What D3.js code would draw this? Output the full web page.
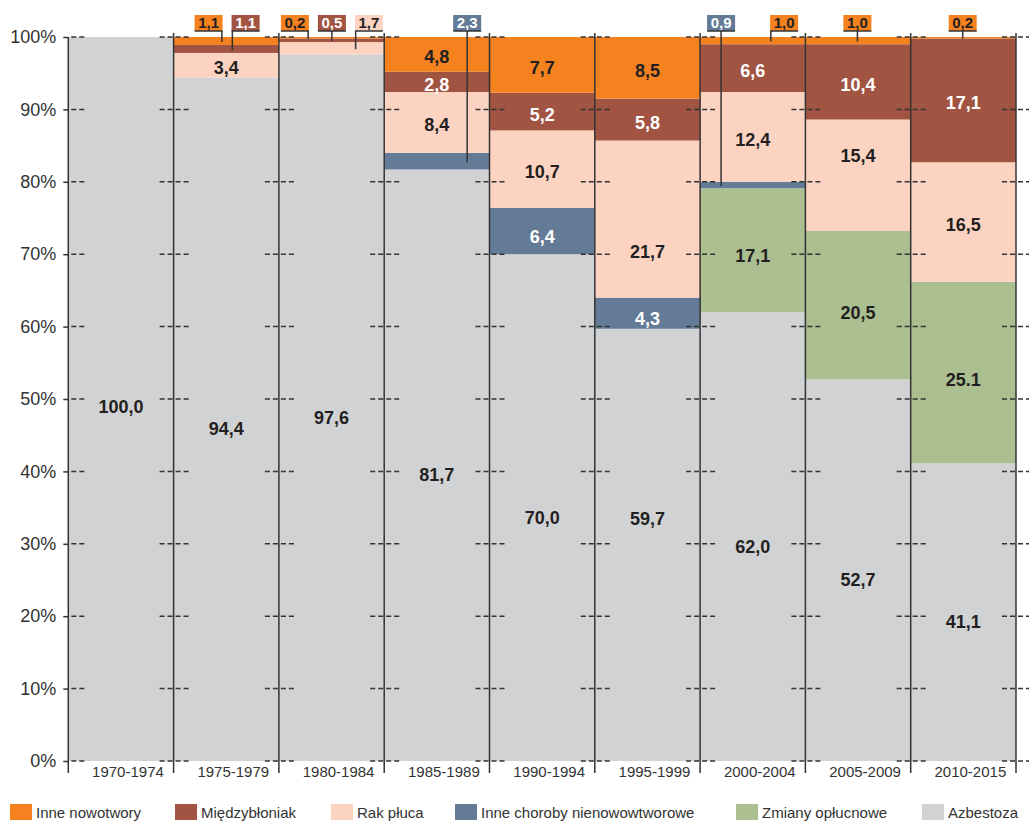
<!DOCTYPE html>
<html lang="pl">
<head>
    <meta charset="UTF-8">
    <title>Struktura chorób zawodowych</title>
    <script src="https://d3js.org/d3.v7.min.js"></script>
    <style>
        body { margin: 0; background: #fff; }
        svg, svg text { font-family: "Liberation Sans", Arial, sans-serif; }
        .tick text { fill: #333; }
    </style>
</head>
<body>
    <svg width="1029" height="821"></svg>

    <script>
        const periods = ["1970-1974", "1975-1979", "1980-1984", "1985-1989", "1990-1994",
                         "1995-1999", "2000-2004", "2005-2009", "2010-2015"];

        // series, bottom of the stack first
        const azbestoza   = [100.0, 94.4, 97.6, 81.7, 70.0, 59.7, 62.0, 52.7, 41.1];
        const zmiany      = [0, 0, 0, 0, 0, 0, 17.1, 20.5, 25.1];
        const inneChoroby = [0, 0, 0, 2.3, 6.4, 4.3, 0.9, 0, 0];
        const rakPluca    = [0, 3.4, 1.7, 8.4, 10.7, 21.7, 12.4, 15.4, 16.5];
        const miedzyb     = [0, 1.1, 0.5, 2.8, 5.2, 5.8, 6.6, 10.4, 17.1];
        const inneNowotw  = [0, 1.1, 0.2, 4.8, 7.7, 8.5, 1.0, 1.0, 0.2];

        const yTicks = [0, 10, 20, 30, 40, 50, 60, 70, 80, 90, 100];

        const series = [
            {key: "Azbestoza", values: azbestoza, color: "#d1d2d4", text: "#231f20"},
            {key: "Zmiany opłucnowe", values: zmiany, color: "#abbf90", text: "#231f20"},
            {key: "Inne choroby nienowowtworowe", values: inneChoroby, color: "#637b96", text: "#fff"},
            {key: "Rak płuca", values: rakPluca, color: "#fcd3c1", text: "#231f20"},
            {key: "Międzybłoniak", values: miedzyb, color: "#a15442", text: "#fff"},
            {key: "Inne nowotwory", values: inneNowotw, color: "#f5821f", text: "#231f20"}
        ];

        // small values shown in boxes above the plot
        const callouts = [
            {period: "1975-1979", key: "Inne nowotwory", dx: 21, lead: "right"},
            {period: "1975-1979", key: "Międzybłoniak", dx: 58, lead: "left"},
            {period: "1980-1984", key: "Inne nowotwory", dx: 2, lead: "right"},
            {period: "1980-1984", key: "Międzybłoniak", dx: 39, lead: "center"},
            {period: "1980-1984", key: "Rak płuca", dx: 76, lead: "left"},
            {period: "1985-1989", key: "Inne choroby nienowowtworowe", dx: 69, lead: "center"},
            {period: "2000-2004", key: "Inne choroby nienowowtworowe", dx: 7, lead: "center"},
            {period: "2000-2004", key: "Inne nowotwory", dx: 70, lead: "left"},
            {period: "2005-2009", key: "Inne nowotwory", dx: 38, lead: "center"},
            {period: "2010-2015", key: "Inne nowotwory", dx: 38, lead: "center"}
        ];

        // hand placed label shifts (px) and label text exceptions
        const labelShift = {
            "1995-1999|Azbestoza": -26,
            "1995-1999|Rak płuca": 33,
            "2005-2009|Rak płuca": -19,
            "2005-2009|Zmiany opłucnowe": 8,
            "2010-2015|Zmiany opłucnowe": 7,
            "2000-2004|Zmiany opłucnowe": 6,
            "1990-1994|Inne choroby nienowowtworowe": 6,
            "1995-1999|Inne choroby nienowowtworowe": 6,
            "1970-1974|Azbestoza": 8
        };
        const labelText = {"2010-2015|Zmiany opłucnowe": "25.1"};

        const legendX = [10, 175, 331, 455, 736, 922];

        const font = '"Liberation Sans", Arial, sans-serif';
        const svg = d3.select("svg");
        const x = d3.scaleBand().domain(periods).range([68.3, 1016]).padding(0);
        const y = d3.scaleLinear().domain([0, 100]).range([761, 37]);

        const rows = periods.map((p, i) => {
            const r = {period: p};
            series.forEach(s => r[s.key] = s.values[i]);
            return r;
        });
        const stacked = d3.stack().keys(series.map(s => s.key))(rows);
        const byKey = {};
        series.forEach(s => byKey[s.key] = s);

        // bars
        svg.append("g").selectAll("g")
            .data(stacked)
            .join("g")
            .attr("fill", d => byKey[d.key].color)
            .selectAll("rect")
            .data(d => d)
            .join("rect")
            .attr("x", d => x(d.data.period))
            .attr("width", x.bandwidth())
            .attr("y", d => y(d[1]))
            .attr("height", d => y(d[0]) - y(d[1]));

        // y axis labels
        const yAxis = svg.append("g")
            .attr("transform", "translate(68.3,0)")
            .call(d3.axisLeft(y).tickValues(yTicks).tickSize(5).tickPadding(7).tickFormat(d => d + "%"))
            .attr("font-family", font);
        yAxis.select(".domain").remove();
        yAxis.selectAll("line").attr("stroke", "#333").attr("stroke-width", 1.5);
        yAxis.selectAll("text").style("font-size", "18px");

        // dashed grid pieces around the column borders
        const borders = periods.map(p => x(p)).concat([x.range()[1]]);
        const dashes = svg.append("g").attr("stroke", "#333").attr("stroke-width", 1.5)
            .attr("stroke-dasharray", "5,3");
        yTicks.forEach(t => {
            borders.forEach((bx, i) => {
                dashes.append("line")
                    .attr("x1", i === 0 ? bx + 3 : bx - 14)
                    .attr("x2", bx + 17)
                    .attr("y1", y(t)).attr("y2", y(t));
            });
        });

        // column borders
        svg.append("g").selectAll("line")
            .data(borders)
            .join("line")
            .attr("x1", d => d).attr("x2", d => d)
            .attr("y1", (d, i) => i === 0 ? 37 : 33)
            .attr("y2", 773)
            .attr("stroke", "#333")
            .attr("stroke-width", 1.5);

        // x axis labels
        const xAxis = svg.append("g")
            .attr("transform", "translate(0,761)")
            .call(d3.axisBottom(x).tickSize(0).tickPadding(5))
            .attr("font-family", font);
        xAxis.select(".domain").remove();
        xAxis.selectAll("text").style("font-size", "15px").attr("dx", 7);

        const fmt = v => d3.format(".1f")(v).replace(".", ",");
        const isCallout = (p, k) => callouts.some(c => c.period === p && c.key === k);

        // labels inside the bars
        const labels = [];
        stacked.forEach(layer => {
            layer.forEach(d => {
                const v = d[1] - d[0];
                const id = d.data.period + "|" + layer.key;
                if (v <= 0 || isCallout(d.data.period, layer.key)) return;
                const def = layer.key === "Azbestoza" ? 10 : 3;
                labels.push({
                    x: x(d.data.period) + x.bandwidth() / 2,
                    y: (y(d[0]) + y(d[1])) / 2 + (labelShift[id] !== undefined ? labelShift[id] : def),
                    text: labelText[id] || fmt(v),
                    color: byKey[layer.key].text
                });
            });
        });
        svg.append("g").selectAll("text")
            .data(labels)
            .join("text")
            .attr("x", d => d.x)
            .attr("y", d => d.y + 6)
            .attr("text-anchor", "middle")
            .attr("fill", d => d.color)
            .style("font-size", "18px")
            .style("font-weight", "bold")
            .text(d => d.text);

        // callout boxes
        const boxW = 28, boxTop = 15, boxBottom = 31;
        const cg = svg.append("g");
        callouts.forEach(c => {
            const layer = stacked.find(l => l.key === c.key);
            const d = layer[periods.indexOf(c.period)];
            const s = byKey[c.key];
            const bx = x(c.period) + c.dx;
            const lx = c.lead === "left" ? bx + 0.75 : c.lead === "right" ? bx + boxW - 0.75 : bx + boxW / 2;
            cg.append("rect")
                .attr("x", bx).attr("y", boxTop)
                .attr("width", boxW).attr("height", boxBottom - boxTop)
                .attr("fill", s.color);
            cg.append("text")
                .attr("x", bx + boxW / 2).attr("y", boxBottom - 3)
                .attr("text-anchor", "middle")
                .attr("fill", s.text)
                .style("font-size", "15px")
                .style("font-weight", "bold")
                .text(fmt(d[1] - d[0]));
            cg.append("line")
                .attr("x1", bx).attr("x2", bx + boxW)
                .attr("y1", boxBottom).attr("y2", boxBottom)
                .attr("stroke", "#333").attr("stroke-width", 1.5);
            cg.append("line")
                .attr("x1", lx).attr("x2", lx)
                .attr("y1", boxBottom)
                .attr("y2", (y(d[0]) + y(d[1])) / 2 + 1)
                .attr("stroke", "#333").attr("stroke-width", 1.5);
        });

        // legend
        const legend = svg.append("g").selectAll("g")
            .data(series.slice().reverse())
            .join("g")
            .attr("transform", (d, i) => `translate(${legendX[i]},804)`);
        legend.append("rect")
            .attr("width", 22).attr("height", 16)
            .attr("fill", d => d.color);
        legend.append("text")
            .attr("x", 26).attr("y", 14)
            .attr("fill", "#333")
            .style("font-size", "15px")
            .text(d => d.key);
    </script>
</body>
</html>
